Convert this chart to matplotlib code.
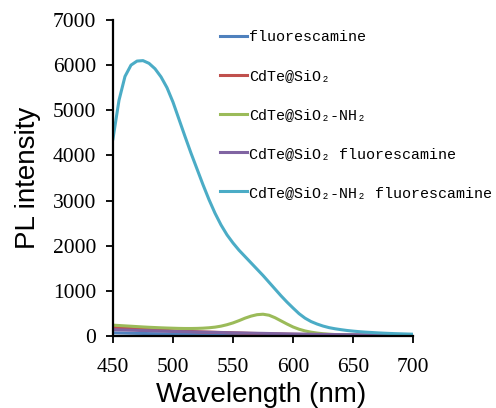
import matplotlib
matplotlib.use("Agg")
import matplotlib.pyplot as plt

wavelength = list(range(450, 701, 5))

fluorescamine = [70, 67, 64, 61, 58, 56, 53, 51, 49, 47, 45, 43, 42, 40, 39, 37, 36, 35, 33, 32,
                 30, 29, 28, 27, 26, 25, 24, 23, 22, 21, 20, 19, 18, 17, 16, 15, 15, 14, 13, 13,
                 12, 12, 11, 11, 10, 10, 9, 9, 9, 8, 8]
cdte_sio2 = [190, 182, 174, 166, 158, 150, 143, 136, 129, 122, 115, 110, 105, 100, 95, 90, 86, 82, 78, 74,
             70, 66, 62, 58, 55, 52, 49, 46, 43, 40, 37, 35, 33, 31, 29, 27, 25, 24, 23, 22,
             21, 20, 19, 18, 17, 16, 15, 14, 13, 13, 12]
cdte_sio2_nh2 = [240, 232, 224, 216, 208, 200, 193, 187, 181, 176, 172, 168, 166, 166, 168, 173, 182, 196, 218, 250,
                 290, 340, 395, 440, 472, 482, 460, 405, 335, 265, 200, 150, 112, 85, 65, 50, 40, 32, 26, 21,
                 18, 15, 13, 12, 11, 10, 9, 8, 8, 7, 7]
cdte_sio2_fluor = [140, 136, 132, 128, 124, 120, 116, 112, 108, 104, 100, 97, 94, 91, 88, 85, 82, 79, 76, 73,
                   70, 68, 65, 62, 60, 58, 55, 52, 50, 47, 45, 43, 41, 39, 37, 35, 33, 32, 30, 29,
                   28, 27, 26, 25, 24, 23, 22, 21, 20, 19, 18]
cdte_sio2_nh2_fluor = [4370, 5220, 5750, 6000, 6090, 6100, 6040, 5920, 5740, 5500, 5180, 4800, 4420, 4050, 3700, 3350, 3020, 2720, 2460, 2240,
                       2060, 1900, 1760, 1620, 1480, 1340, 1190, 1040, 890, 750, 620, 495, 395, 320, 265, 220, 185, 160, 140, 122,
                       108, 96, 86, 78, 70, 63, 57, 52, 48, 44, 40]

labels = ["fluorescamine", "CdTe@SiO\u2082", "CdTe@SiO\u2082-NH\u2082",
          "CdTe@SiO\u2082 fluorescamine", "CdTe@SiO\u2082-NH\u2082 fluorescamine"]
series = [fluorescamine, cdte_sio2, cdte_sio2_nh2, cdte_sio2_fluor, cdte_sio2_nh2_fluor]
colors = ["#4F81BD", "#C0504D", "#9BBB59", "#8064A2", "#4BACC6"]

xticks = [450, 500, 550, 600, 650, 700]
yticks = [0, 1000, 2000, 3000, 4000, 5000, 6000, 7000]

fig = plt.figure(figsize=(4.96, 4.08), dpi=100)
ax = fig.add_axes([0.2278, 0.1765, 0.605, 0.7745])

for y, lab, c in zip(series, labels, colors):
    ax.plot(wavelength, y, color=c, lw=2.2, label=lab, solid_joinstyle="round")

ax.set_xlim(450, 700)
ax.set_ylim(0, 7000)
ax.set_xticks(xticks)
ax.set_yticks(yticks)
for s in ["top", "right"]:
    ax.spines[s].set_visible(False)
for s in ["left", "bottom"]:
    ax.spines[s].set_linewidth(1.6)
ax.tick_params(axis="both", direction="out", length=5, width=1.3, colors="black")
ax.tick_params(axis="x", pad=11)
ax.tick_params(axis="y", pad=7)
for t in ax.get_xticklabels() + ax.get_yticklabels():
    t.set_fontfamily("Liberation Serif")
    t.set_fontsize(15.5)

ax.set_xlabel("Wavelength (nm)", fontfamily="Liberation Sans", fontsize=20)
ax.set_ylabel("PL intensity", fontfamily="Liberation Sans", fontsize=20)
ax.xaxis.set_label_coords(0.495, -0.145)
ax.yaxis.set_label_coords(-0.24, 0.5)

leg = fig.legend(loc="upper left", bbox_to_anchor=(220 / 496, 1 - 30 / 408),
                 frameon=False, handlelength=1.8, handletextpad=0.12,
                 labelspacing=1.66, borderpad=0, borderaxespad=0,
                 prop={"family": ["Liberation Mono", "DejaVu Sans Mono"], "size": 10.8})

fig.savefig("out.png", dpi=100)
